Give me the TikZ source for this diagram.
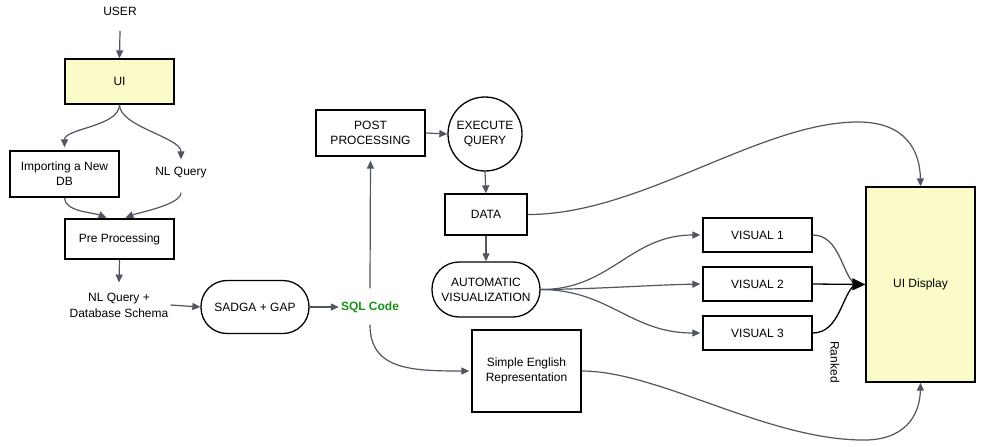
\documentclass[tikz,border=0pt]{standalone}
\usepackage{fontspec}
\setmainfont{Liberation Sans}
\usetikzlibrary{arrows.meta,calc}
\definecolor{conncol}{HTML}{50565F}
\definecolor{yel}{HTML}{FBFAC9}
\definecolor{sqlgreen}{HTML}{169416}
\tikzset{
  box/.style={draw=black,line width=1.3pt,rectangle,align=center,inner sep=0pt,font=\fontsize{12}{15}\selectfont},
  stadium/.style={box,rounded corners=#1},
  lbl/.style={align=center,inner sep=2pt,font=\fontsize{12}{15}\selectfont},
  conn/.style={draw=conncol,line width=1.2pt,-{Triangle[length=8pt,width=7pt]}},
  bconn/.style={draw=black,line width=1.3pt},
}
\begin{document}
\begin{tikzpicture}[x=1pt,y=-1pt]
\useasboundingbox (0,0) rectangle (988,447);
% nodes
\node[lbl] (user) at (120,11) {USER};
\coordinate (ustart) at (120,31);
\node[box,fill=yel,minimum width=109,minimum height=45] (ui) at (119.5,81.5) {UI};
\node[box,minimum width=109,minimum height=46] (imp) at (64.5,174) {Importing a New\\DB};
\node[lbl] (nlq) at (181,173) {NL Query};
\node[box,minimum width=109,minimum height=40] (pre) at (119.5,239) {Pre Processing};
\node[lbl,font=\fontsize{12}{16}\selectfont] (nls) at (119,305) {NL Query +\\Database Schema};
\node[stadium=26pt,minimum width=108,minimum height=53] (sadga) at (255,307) {SADGA + GAP};
\node[lbl,text=sqlgreen,font=\fontsize{12}{15}\selectfont\bfseries] (sql) at (370,307) {SQL Code};
\node[box,minimum width=109,minimum height=46] (post) at (370.5,133) {POST\\PROCESSING};
\node[box,circle,minimum size=74] (exec) at (485,134) {EXECUTE\\QUERY};
\node[box,minimum width=82,minimum height=41] (data) at (486,214.5) {DATA};
\node[stadium=27pt,minimum width=108,minimum height=55] (auto) at (486,289.5) {AUTOMATIC\\VISUALIZATION};
\node[box,minimum width=109,minimum height=82] (eng) at (526.5,371) {Simple English\\Representation};
\node[box,minimum width=109,minimum height=34] (v1) at (757.5,235) {VISUAL 1};
\node[box,minimum width=109,minimum height=34] (v2) at (757.5,284) {VISUAL 2};
\node[box,minimum width=109,minimum height=34] (v3) at (757.5,333) {VISUAL 3};
\node[box,fill=yel,minimum width=109,minimum height=195] (uid) at (920.5,284.5) {UI Display};
\node[lbl,rotate=-90] (ranked) at (835,362) {Ranked};
% connectors
\draw[conn] (ustart) -- (ui.north);
\draw[conn,shorten >=3pt] (ui.south) .. controls +(0,22) and +(0,-22) .. (imp.north);
\draw[conn] (ui.south) .. controls +(0,22) and +(0,-22) .. ($(nlq.north)+(0,-6)$);
\draw[conn,shorten >=2pt] (imp.south) .. controls +(0,14) and +(-16,-6) .. ([xshift=-11pt]pre.north);
\draw[conn,shorten >=2pt] ($(nlq.south)+(0,12)$) .. controls +(0,12) and +(16,-6) .. ([xshift=4pt]pre.north);
\draw[conn] (pre.south) -- ($(nls.north)+(0,-8)$);
\draw[conn] (nls.east) -- (sadga.west);
\draw[conn] (sadga.east) -- (sql.west);
\draw[conn,shorten >=4pt] ($(sql.north)+(0,-11)$) -- (post.south);
\draw[conn] (post.east) -- (exec.west);
\draw[conn] (exec.south) -- (data.north);
\draw[conn] (data.south) -- (auto.north);
\draw[conn,shorten >=2pt] ($(sql.south)+(0,10)$) .. controls +(0,45) and +(-60,0) .. (eng.west);
\draw[conn] (data.east) .. controls (640,215) and (760,122) .. (858,122)
   .. controls (905,122) and (920,150) .. (uid.north);
\draw[conn] (eng.east) .. controls (660,371) and (770,442) .. (868,440)
   .. controls (910,438) and (920,410) .. (uid.south);
\draw[conn,shorten >=2pt] (auto.east) .. controls (610,290) and (630,235) .. (v1.west);
\draw[conn,shorten >=2pt] (auto.east) .. controls (600,289) and (650,285) .. (v2.west);
\draw[conn,shorten >=2pt] (auto.east) .. controls (610,290) and (630,333) .. (v3.west);
\draw[draw=conncol,line width=1.3pt] (v1.east) .. controls (840,235) and (842,275) .. ($(uid.west)+(-10,0)$);
\draw[bconn] (v3.east) .. controls (840,333) and (842,293) .. ($(uid.west)+(-10,0)$);
\draw[bconn,-{Triangle[length=13pt,width=12pt]}] (v2.east) -- (uid.west);
\end{tikzpicture}
\end{document}
